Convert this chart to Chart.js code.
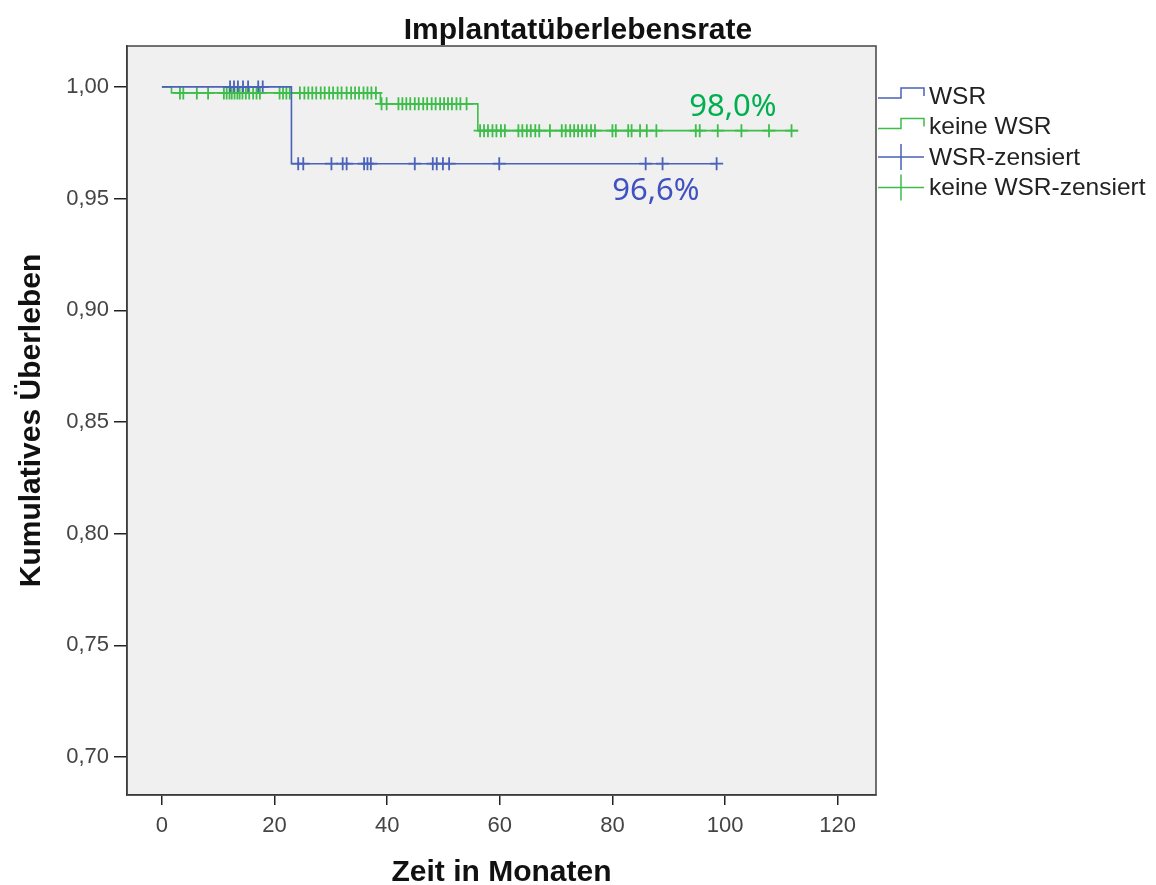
<!DOCTYPE html>
<html>
<head>
<meta charset="utf-8">
<script src="https://cdn.jsdelivr.net/npm/chart.js@4.4.1/dist/chart.umd.min.js"></script>
<style>
  html, body { margin: 0; padding: 0; background: #fff; }
  #wrap { width: 1156px; height: 885px; }
</style>
</head>
<body>
<div id="wrap"><canvas id="kmChart" width="1156" height="885"></canvas></div>
<script>
// Kaplan-Meier: Zeitpunkte (Monate) und Überlebensrate nach jedem Schritt
const wsrTimes = [0, 23.0, 98.5];
const wsrSurv = [1.0, 0.9656, 0.9656];
const keineTimes = [0, 1.7, 38.8, 56.1, 113.0];
const keineSurv = [1.0, 0.9973, 0.9924, 0.9804, 0.9804];

// zensierte Fälle (Monate)
const wsrCensored = [12.1, 12.8, 13.5, 14.4, 15.3, 17.1, 17.9, 24.2, 25.1, 30.1, 32.1, 32.8,
  35.9, 36.5, 37.1, 44.9, 48.1, 48.8, 49.9, 51.0, 59.9, 85.9, 88.9, 98.5];
const keineCensored = [3.2, 3.8, 6.2, 8.2, 11.0, 11.5, 12.0, 12.4, 12.9, 13.4, 13.8, 14.3, 14.9,
  15.5, 16.2, 16.8, 17.4, 20.9, 21.5, 22.1, 22.7, 24.5, 25.3, 26.0, 26.7, 27.4, 28.2, 28.9,
  29.7, 30.4, 31.2, 31.9, 32.8, 33.6, 34.3, 35.0, 35.8, 36.5, 37.2, 38.0, 39.0, 39.9, 42.0,
  42.7, 43.4, 44.1, 44.9, 45.6, 46.4, 47.1, 47.9, 48.6, 49.4, 50.1, 50.8, 51.5, 52.3, 53.0,
  54.1, 56.5, 57.2, 57.9, 58.7, 59.4, 60.2, 60.9, 63.3, 64.0, 64.8, 65.5, 66.3, 67.0, 68.9,
  71.0, 71.7, 72.5, 73.2, 73.9, 74.6, 75.4, 76.2, 76.9, 80.0, 80.6, 82.8, 83.4, 84.9, 86.1,
  87.8, 94.8, 95.5, 98.7, 102.9, 107.8, 111.8];

// Achsen
const xTicks = [0, 20, 40, 60, 80, 100, 120];
const yTicks = [0.70, 0.75, 0.80, 0.85, 0.90, 0.95, 1.00];

// Legende und Beschriftungen im Diagramm
const legendLabels = ['WSR', 'keine WSR', 'WSR-zensiert', 'keine WSR-zensiert'];
const endLabels = [
  { text: '98,0%', x: 101.4, y: 0.9910, color: '#00b050' },
  { text: '96,6%', x: 87.7, y: 0.9535, color: '#4052c0' }
];

const blue = '#4a62b8';
const green = '#3ebd4a';

// Stufenlinie als Punkte
function curvePoints(times, surv) {
  return times.map((t, i) => ({ x: t, y: surv[i] }));
}

// Überlebensrate der Kurve zum Zeitpunkt t (für die Zensurkreuze)
function levelAt(times, surv, t) {
  let s = surv[0];
  for (let i = 0; i < times.length; i++) {
    if (times[i] <= t) s = surv[i];
  }
  return s;
}

function censorPoints(cens, times, surv) {
  return cens.map(t => ({ x: t, y: levelAt(times, surv, t) }));
}

// Hintergrund, Rahmen, Legende und Prozentwerte
const kmPlugin = {
  id: 'kmPlugin',
  beforeDraw(chart) {
    const ctx = chart.ctx;
    const a = chart.chartArea;
    ctx.save();
    ctx.fillStyle = '#ffffff';
    ctx.fillRect(0, 0, chart.width, chart.height);
    ctx.fillStyle = '#f0f0f0';
    ctx.fillRect(a.left, a.top, a.right - a.left, a.bottom - a.top);
    ctx.restore();
  },
  afterDraw(chart) {
    const ctx = chart.ctx;
    const a = chart.chartArea;
    const xs = chart.scales.x;
    const ys = chart.scales.y;
    ctx.save();

    // Rahmen
    ctx.strokeStyle = '#444';
    ctx.lineWidth = 1.5;
    ctx.strokeRect(a.left, a.top, a.right - a.left, a.bottom - a.top);

    // Prozentwerte
    ctx.font = '31px "Noto Sans"';
    ctx.textAlign = 'center';
    ctx.textBaseline = 'middle';
    endLabels.forEach(l => {
      ctx.fillStyle = l.color;
      ctx.fillText(l.text, xs.getPixelForValue(l.x), ys.getPixelForValue(l.y));
    });

    // Legende rechts
    const lx = a.right + 2;
    const rowH = 30.5;
    const top = a.top + 50;
    ctx.font = '24.5px "Liberation Sans"';
    ctx.textAlign = 'left';
    legendLabels.forEach((label, i) => {
      const cy = top + i * rowH;
      const col = i % 2 === 0 ? blue : green;
      ctx.strokeStyle = col;
      ctx.lineWidth = 1.5;
      ctx.beginPath();
      if (i < 2) {
        ctx.moveTo(lx, cy + 2);
        ctx.lineTo(lx + 23, cy + 2);
        ctx.lineTo(lx + 23, cy - 8);
        ctx.lineTo(lx + 46, cy - 8);
        ctx.lineTo(lx + 46, cy);
      } else {
        ctx.moveTo(lx, cy);
        ctx.lineTo(lx + 46, cy);
        ctx.moveTo(lx + 23, cy - 13);
        ctx.lineTo(lx + 23, cy + 13);
      }
      ctx.stroke();
      ctx.fillStyle = '#222';
      ctx.fillText(label, lx + 51, cy + 1);
    });
    ctx.restore();
  }
};

const ctx = document.getElementById('kmChart').getContext('2d');
new Chart(ctx, {
  type: 'line',
  data: {
    datasets: [
      {
        label: 'WSR',
        data: curvePoints(wsrTimes, wsrSurv),
        borderColor: blue,
        borderWidth: 1.6,
        stepped: true,
        pointRadius: 0,
        fill: false
      },
      {
        label: 'keine WSR',
        data: curvePoints(keineTimes, keineSurv),
        borderColor: green,
        borderWidth: 1.6,
        stepped: true,
        pointRadius: 0,
        fill: false
      },
      {
        label: 'WSR-zensiert',
        type: 'scatter',
        data: censorPoints(wsrCensored, wsrTimes, wsrSurv),
        pointStyle: 'cross',
        pointRadius: 6.5,
        borderColor: blue,
        pointBorderWidth: 1.8,
        showLine: false
      },
      {
        label: 'keine WSR-zensiert',
        type: 'scatter',
        data: censorPoints(keineCensored, keineTimes, keineSurv),
        pointStyle: 'cross',
        pointRadius: 6.5,
        borderColor: green,
        pointBorderWidth: 1.8,
        showLine: false
      }
    ]
  },
  options: {
    responsive: false,
    animation: false,
    layout: { padding: 0 },
    plugins: {
      legend: { display: false },
      tooltip: { enabled: false },
      title: {
        display: true,
        text: 'Implantatüberlebensrate',
        color: '#111',
        font: { family: 'Liberation Sans', size: 30, weight: 'bold', lineHeight: 1 },
        padding: { top: 16, bottom: 0 },
        fullSize: true
      }
    },
    scales: {
      x: {
        type: 'linear',
        min: -6.2,
        max: 126.8,
        afterFit(scale) { scale.height = 90; },
        afterBuildTicks(scale) { scale.ticks = xTicks.map(v => ({ value: v })); },
        border: { display: true, color: '#222', width: 1.5 },
        grid: { drawOnChartArea: false, drawTicks: true, tickLength: 10, color: '#222', lineWidth: 1.5 },
        ticks: {
          color: '#444',
          padding: 8,
          font: { family: 'Liberation Sans', size: 22 },
          callback: v => String(v)
        },
        title: {
          display: true,
          text: 'Zeit in Monaten',
          color: '#111',
          font: { family: 'Liberation Sans', size: 30, weight: 'bold', lineHeight: 0.8 },
          padding: { top: 0, bottom: 0 }
        }
      },
      y: {
        type: 'linear',
        min: 0.683,
        max: 1.0183,
        afterFit(scale) { scale.width = 127; },
        afterBuildTicks(scale) { scale.ticks = yTicks.map(v => ({ value: v })); },
        border: { display: true, color: '#222', width: 1.5 },
        grid: { drawOnChartArea: false, drawTicks: true, tickLength: 13, color: '#222', lineWidth: 1.5 },
        ticks: {
          color: '#444',
          padding: 5,
          font: { family: 'Liberation Sans', size: 22 },
          callback: v => v.toFixed(2).replace('.', ',')
        },
        title: {
          display: true,
          text: 'Kumulatives Überleben',
          color: '#111',
          font: { family: 'Liberation Sans', size: 30, weight: 'bold', lineHeight: 0.8 },
          padding: { top: 20, bottom: 0 }
        }
      },
      // leere Achse rechts: Platz für die Legende
      legendSpace: {
        type: 'linear',
        position: 'right',
        display: true,
        afterFit(scale) { scale.width = 280; },
        grid: { display: false },
        border: { display: false },
        ticks: { display: false }
      }
    }
  },
  plugins: [kmPlugin]
});
</script>
</body>
</html>
